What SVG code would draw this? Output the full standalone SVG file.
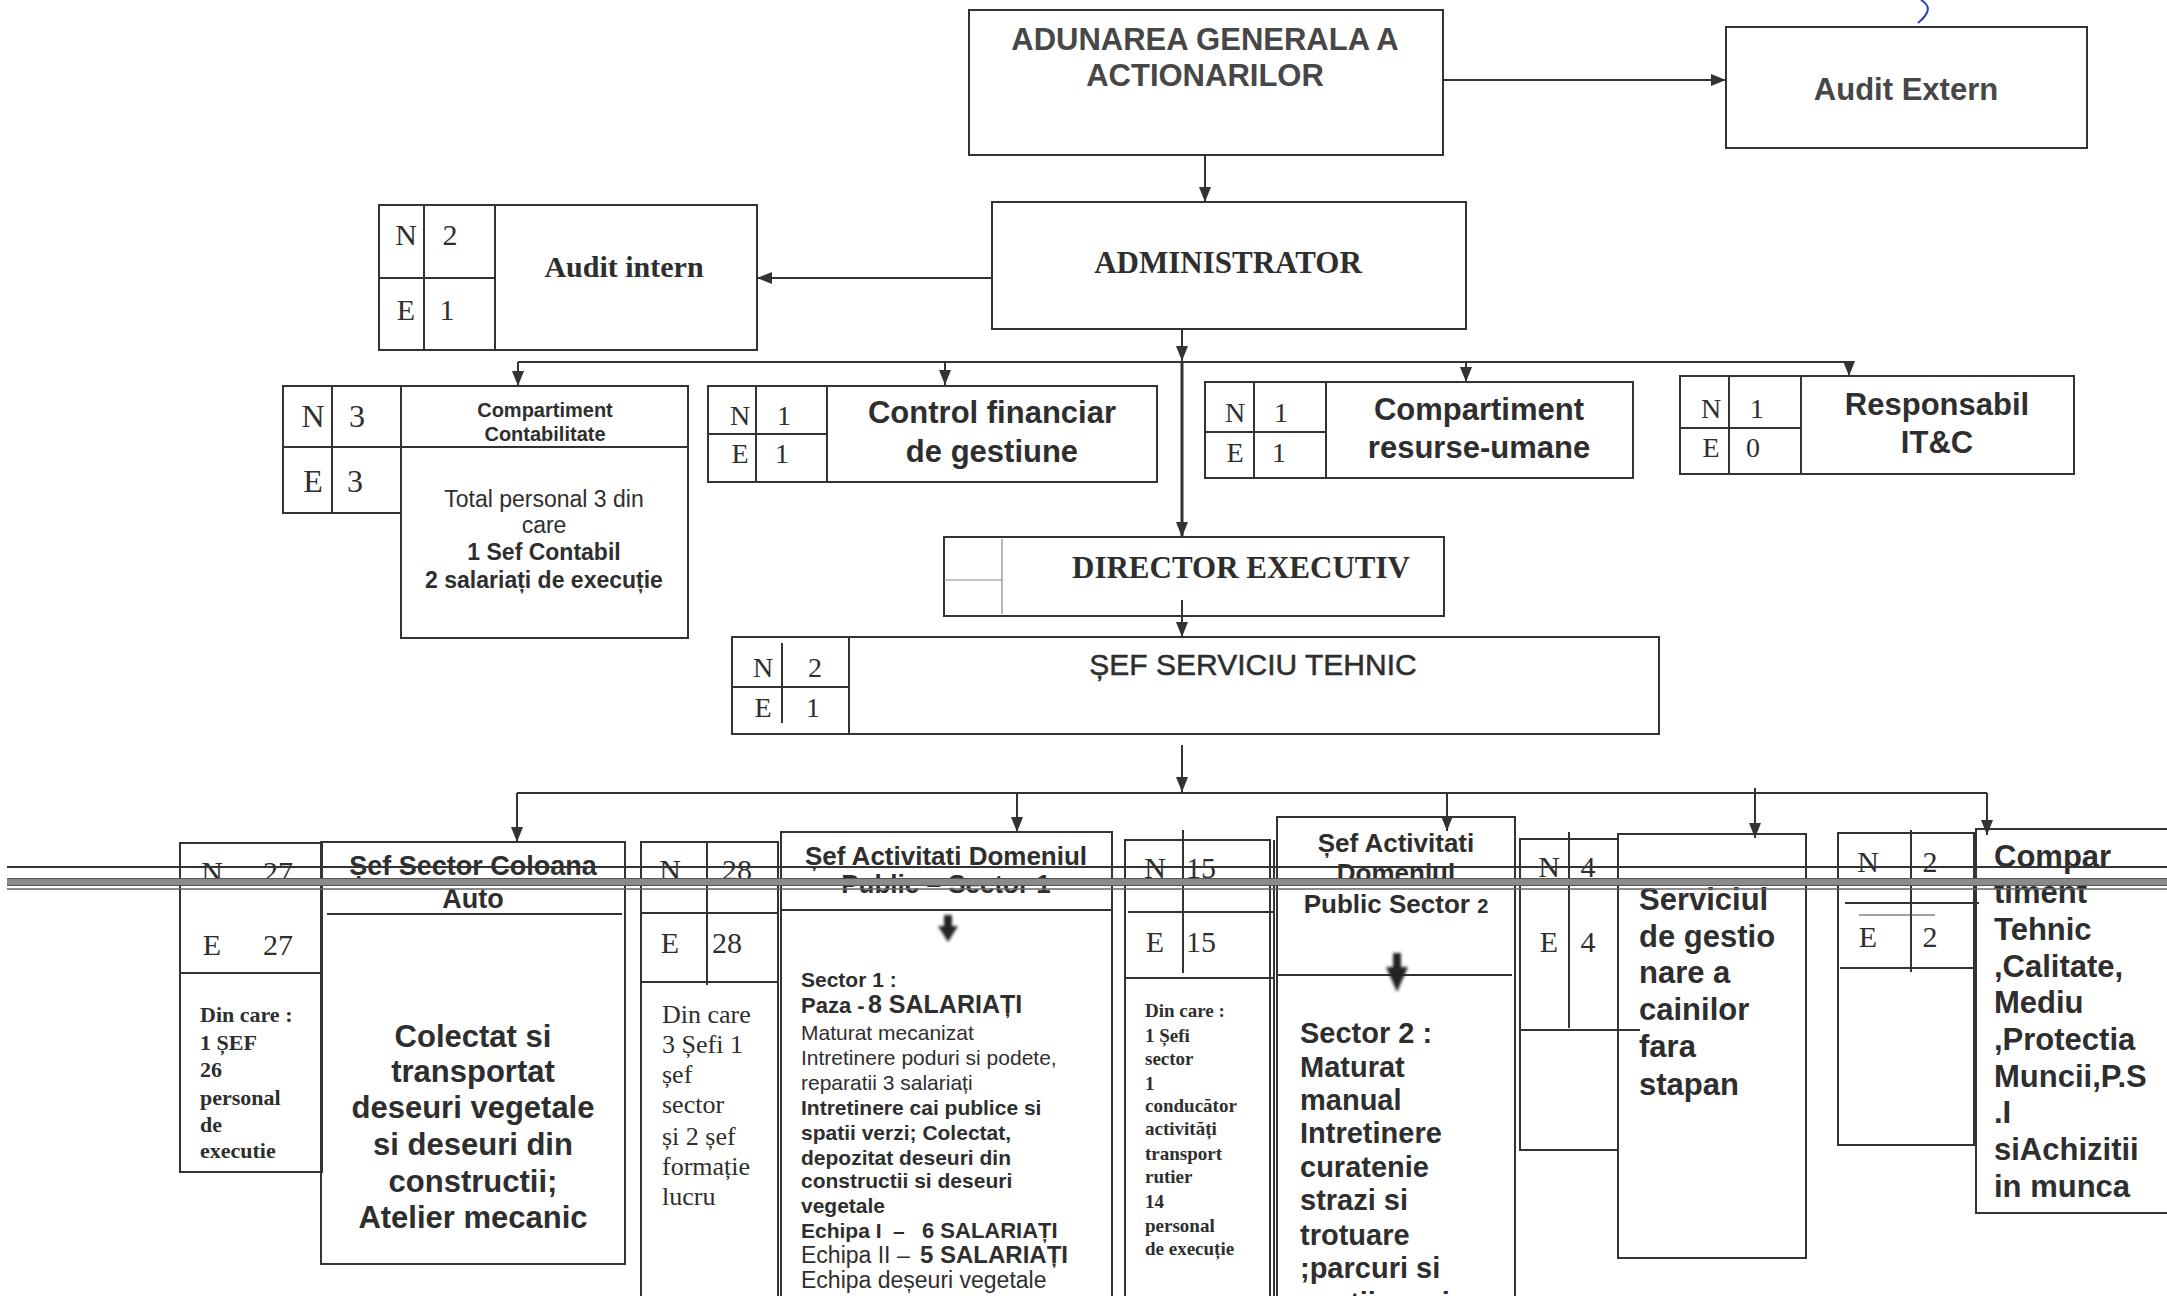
<svg xmlns="http://www.w3.org/2000/svg" width="2167" height="1296" viewBox="0 0 2167 1296">
<defs>
<style>
.bx{fill:none;stroke:#333;stroke-width:2}
.th{fill:none;stroke:#888;stroke-width:1.2}
.ln{fill:none;stroke:#333;stroke-width:2}
.sans{font-family:"Liberation Sans",Arial,sans-serif;fill:#2e2e2e}
.serif{font-family:"Liberation Serif","Times New Roman",serif;fill:#2e2e2e}
.b{font-weight:bold}
.c{text-anchor:middle}
.gr{fill:#474747}
</style>
<marker id="ah" viewBox="0 0 15 12" refX="15" refY="6" markerWidth="15" markerHeight="12" markerUnits="userSpaceOnUse" orient="auto">
<path d="M0,0 L15,6 L0,12 Z" fill="#333"/>
</marker>
<filter id="blur" x="-50%" y="-50%" width="200%" height="200%"><feGaussianBlur stdDeviation="1.6"/></filter>
</defs>
<rect width="2167" height="1296" fill="#fff"/>

<!-- scan marks -->
<path d="M1921,0 C1931,6 1930,13 1918,23" fill="none" stroke="#2b3fc0" stroke-width="2"/>

<g id="adunarea">
<rect class="bx" x="969" y="10" width="474" height="145"/>
<text class="sans b c gr" x="1205" y="50" font-size="31">ADUNAREA GENERALA A</text>
<text class="sans b c gr" x="1205" y="86" font-size="31">ACTIONARILOR</text>
</g>

<g id="audit-extern">
<rect class="bx" x="1726" y="27" width="361" height="121"/>
<text class="sans b c gr" x="1906" y="100" font-size="31">Audit Extern</text>
</g>

<g id="administrator">
<rect class="bx" x="992" y="202" width="474" height="127"/>
<text class="serif b c" x="1228" y="273" font-size="31">ADMINISTRATOR</text>
</g>

<g id="audit-intern">
<rect class="bx" x="379" y="205" width="378" height="145"/>
<path class="ln" d="M424,205V350M495,205V350M379,278H495"/>
<text class="serif c" x="406" y="245" font-size="30">N</text>
<text class="serif c" x="450" y="245" font-size="30">2</text>
<text class="serif c" x="406" y="320" font-size="30">E</text>
<text class="serif c" x="447" y="320" font-size="30">1</text>
<text class="serif b c" x="624" y="277" font-size="30">Audit intern</text>
</g>

<g id="contabilitate">
<rect class="bx" x="283" y="386" width="118" height="127"/>
<path class="ln" d="M332,386V513M283,447H401"/>
<rect class="bx" x="401" y="386" width="287" height="252"/>
<path class="ln" d="M401,447H688"/>
<text class="serif c" x="313" y="427" font-size="32">N</text>
<text class="serif c" x="357" y="427" font-size="32">3</text>
<text class="serif c" x="313" y="492" font-size="32">E</text>
<text class="serif c" x="355" y="492" font-size="32">3</text>
<text class="sans b c" x="545" y="417" font-size="20">Compartiment</text>
<text class="sans b c" x="545" y="441" font-size="20">Contabilitate</text>
<text class="sans c" x="544" y="507" font-size="23">Total personal 3 din</text>
<text class="sans c" x="544" y="533" font-size="23">care</text>
<text class="sans b c" x="544" y="560" font-size="23">1 Sef Contabil</text>
<text class="sans b c" x="544" y="588" font-size="23">2 salariați de execuție</text>
</g>

<g id="control-financiar">
<rect class="bx" x="708" y="386" width="449" height="96"/>
<path class="ln" d="M756,386V482M827,386V482M708,434H827"/>
<text class="serif c" x="740" y="425" font-size="28">N</text>
<text class="serif c" x="784" y="425" font-size="28">1</text>
<text class="serif c" x="740" y="463" font-size="28">E</text>
<text class="serif c" x="782" y="463" font-size="28">1</text>
<text class="sans b c" x="992" y="423" font-size="31">Control financiar</text>
<text class="sans b c" x="992" y="462" font-size="31">de gestiune</text>
</g>

<g id="resurse-umane">
<rect class="bx" x="1205" y="382" width="428" height="96"/>
<path class="ln" d="M1254,382V478M1326,382V478M1205,432H1326"/>
<text class="serif c" x="1235" y="422" font-size="28">N</text>
<text class="serif c" x="1281" y="422" font-size="28">1</text>
<text class="serif c" x="1235" y="462" font-size="28">E</text>
<text class="serif c" x="1279" y="462" font-size="28">1</text>
<text class="sans b c" x="1479" y="420" font-size="31">Compartiment</text>
<text class="sans b c" x="1479" y="458" font-size="31">resurse-umane</text>
</g>

<g id="it-c">
<rect class="bx" x="1680" y="376" width="394" height="98"/>
<path class="ln" d="M1729,376V474M1801,376V474M1680,428H1801"/>
<text class="serif c" x="1711" y="418" font-size="28">N</text>
<text class="serif c" x="1757" y="418" font-size="28">1</text>
<text class="serif c" x="1711" y="457" font-size="28">E</text>
<text class="serif c" x="1753" y="457" font-size="28">0</text>
<text class="sans b c" x="1937" y="415" font-size="31">Responsabil</text>
<text class="sans b c" x="1937" y="453" font-size="31">IT&amp;C</text>
</g>

<g id="director-executiv">
<rect class="bx" x="944" y="537" width="500" height="79"/>
<path class="th" d="M1002,539V614M944,580H1002"/>
<text class="serif b c" x="1241" y="578" font-size="31">DIRECTOR EXECUTIV</text>
</g>

<g id="sef-serviciu-tehnic">
<rect class="bx" x="732" y="637" width="927" height="97"/>
<path class="ln" d="M849,637V734M732,687H849"/>
<path class="ln" d="M782,643V723"/>
<text class="serif c" x="763" y="677" font-size="28">N</text>
<text class="serif c" x="815" y="677" font-size="28">2</text>
<text class="serif c" x="763" y="717" font-size="28">E</text>
<text class="serif c" x="813" y="717" font-size="28">1</text>
<text class="sans c" x="1253" y="675" font-size="30" stroke="#2e2e2e" stroke-width="0.5">ȘEF SERVICIU  TEHNIC</text>
</g>

<g id="coloana-auto">
<rect class="bx" x="180" y="843" width="142" height="329"/>
<path class="ln" d="M180,973H322"/>
<rect class="bx" x="321" y="842" width="304" height="422"/>
<path class="ln" d="M327,914H622"/>
<text class="serif c" x="212" y="882" font-size="30">N</text>
<text class="serif c" x="278" y="882" font-size="30">27</text>
<text class="serif c" x="212" y="955" font-size="30">E</text>
<text class="serif c" x="278" y="955" font-size="30">27</text>
<text class="serif b" x="200" y="1022" font-size="22">Din care :</text>
<text class="serif b" x="200" y="1050" font-size="22">1 ȘEF</text>
<text class="serif b" x="200" y="1077" font-size="22">26</text>
<text class="serif b" x="200" y="1105" font-size="22">personal</text>
<text class="serif b" x="200" y="1132" font-size="22">de</text>
<text class="serif b" x="200" y="1158" font-size="22">executie</text>
<text class="sans b c" x="473" y="875" font-size="27">Șef Sector Coloana</text>
<text class="sans b c" x="473" y="908" font-size="27">Auto</text>
<text class="sans b c" x="473" y="1047" font-size="31">Colectat si</text>
<text class="sans b c" x="473" y="1082" font-size="31">transportat</text>
<text class="sans b c" x="473" y="1118" font-size="31">deseuri vegetale</text>
<text class="sans b c" x="473" y="1155" font-size="31">si deseuri din</text>
<text class="sans b c" x="473" y="1192" font-size="31">constructii;</text>
<text class="sans b c" x="473" y="1228" font-size="31">Atelier mecanic</text>
</g>

<g id="sector-1">
<path class="ln" d="M641,1300V842H778V1300M641,913H778M641,982H778M707,842V985"/>
<path class="ln" d="M781,1300V832H1112V1300M781,910H1112"/>
<text class="serif c" x="670" y="880" font-size="30">N</text>
<text class="serif c" x="737" y="880" font-size="30">28</text>
<text class="serif c" x="670" y="953" font-size="30">E</text>
<text class="serif" x="712" y="953" font-size="30">28</text>
<text class="serif" x="662" y="1023" font-size="26">Din care</text>
<text class="serif" x="662" y="1053" font-size="26">3 Șefi 1</text>
<text class="serif" x="662" y="1083" font-size="26">șef</text>
<text class="serif" x="662" y="1113" font-size="26">sector</text>
<text class="serif" x="662" y="1145" font-size="26">și 2 șef</text>
<text class="serif" x="662" y="1175" font-size="26">formație</text>
<text class="serif" x="662" y="1205" font-size="26">lucru</text>
<text class="sans b c" x="946" y="865" font-size="26">Șef Activitati Domeniul</text>
<text class="sans b c" x="946" y="893" font-size="26">Public – Sector 1</text>
<path d="M944,915 H952 V926 H958 L948,942 L938,926 H944 Z" fill="#222" filter="url(#blur)"/>
<text class="sans b" x="801" y="987" font-size="21">Sector 1 :</text>
<text class="sans b" x="801" y="1013" font-size="22">Paza -<tspan x="868" font-size="25">8 SALARIAȚI</tspan></text>
<text class="sans" x="801" y="1040" font-size="21">Maturat mecanizat</text>
<text class="sans" x="801" y="1065" font-size="21">Intretinere poduri si podete,</text>
<text class="sans" x="801" y="1090" font-size="21">reparatii 3 salariați</text>
<text class="sans b" x="801" y="1115" font-size="21">Intretinere cai publice si</text>
<text class="sans b" x="801" y="1140" font-size="21">spatii verzi; Colectat,</text>
<text class="sans b" x="801" y="1165" font-size="21">depozitat deseuri din</text>
<text class="sans b" x="801" y="1188" font-size="21">constructii si deseuri</text>
<text class="sans b" x="801" y="1213" font-size="21">vegetale</text>
<text class="sans b" x="801" y="1238" font-size="21">Echipa I<tspan x="893">–</tspan><tspan x="922" font-size="22">6 SALARIAȚI</tspan></text>
<text class="sans" x="801" y="1263" font-size="23">Echipa II –<tspan x="920" font-weight="bold" font-size="24">5 SALARIAȚI</tspan></text>
<text class="sans" x="801" y="1288" font-size="23">Echipa deșeuri vegetale</text>
</g>

<g id="sector-2-personal">
<path class="ln" d="M1125,1300V840H1270V1300M1274,840V1300M1128,912H1273M1125,978H1274M1183,830V973"/>
<text class="serif c" x="1155" y="878" font-size="30">N</text>
<text class="serif" x="1186" y="878" font-size="30">15</text>
<text class="serif c" x="1155" y="952" font-size="30">E</text>
<text class="serif" x="1186" y="952" font-size="30">15</text>
<text class="serif b" x="1145" y="1017" font-size="19">Din care :</text>
<text class="serif b" x="1145" y="1042" font-size="19">1  Șefi</text>
<text class="serif b" x="1145" y="1065" font-size="19">sector</text>
<text class="serif b" x="1145" y="1090" font-size="19">1</text>
<text class="serif b" x="1145" y="1112" font-size="19">conducător</text>
<text class="serif b" x="1145" y="1135" font-size="19">activități</text>
<text class="serif b" x="1145" y="1160" font-size="19">transport</text>
<text class="serif b" x="1145" y="1183" font-size="19">rutier</text>
<text class="serif b" x="1145" y="1208" font-size="19">14</text>
<text class="serif b" x="1145" y="1232" font-size="19">personal</text>
<text class="serif b" x="1145" y="1255" font-size="19">de execuție</text>
</g>

<g id="sector-2">
<path class="ln" d="M1277,1300V817H1515V1300M1277,975H1512"/>
<text class="sans b c" x="1396" y="852" font-size="26">Șef Activitati</text>
<text class="sans b c" x="1396" y="882" font-size="26">Domeniul</text>
<text class="sans b c" x="1396" y="913" font-size="26">Public  Sector <tspan font-size="20">2</tspan></text>
<path d="M1393,953 H1401 V967 H1408 L1397,992 L1386,967 H1393 Z" fill="#222" filter="url(#blur)"/>
<text class="sans b" x="1300" y="1043" font-size="29">Sector 2 :</text>
<text class="sans b" x="1300" y="1077" font-size="29">Maturat</text>
<text class="sans b" x="1300" y="1110" font-size="29">manual</text>
<text class="sans b" x="1300" y="1143" font-size="29">Intretinere</text>
<text class="sans b" x="1300" y="1177" font-size="29">curatenie</text>
<text class="sans b" x="1300" y="1210" font-size="29">strazi si</text>
<text class="sans b" x="1300" y="1245" font-size="29">trotuare</text>
<text class="sans b" x="1300" y="1278" font-size="29">;parcuri si</text>
<text class="sans b" x="1300" y="1313" font-size="29">spatii verzi</text>
</g>

<g id="caini">
<rect class="bx" x="1520" y="839" width="98" height="311"/>
<path class="ln" d="M1569,832V1028M1521,1030H1640"/>
<rect class="bx" x="1618" y="834" width="188" height="424"/>
<text class="serif c" x="1549" y="877" font-size="30">N</text>
<text class="serif c" x="1588" y="877" font-size="30">4</text>
<text class="serif c" x="1549" y="952" font-size="30">E</text>
<text class="serif c" x="1588" y="952" font-size="30">4</text>
<text class="sans b" x="1639" y="910" font-size="31">Serviciul</text>
<text class="sans b" x="1639" y="947" font-size="31">de gestio</text>
<text class="sans b" x="1639" y="983" font-size="31">nare a</text>
<text class="sans b" x="1639" y="1020" font-size="31">cainilor</text>
<text class="sans b" x="1639" y="1057" font-size="31">fara</text>
<text class="sans b" x="1639" y="1095" font-size="31">stapan</text>
</g>

<g id="compartiment-tehnic">
<rect class="bx" x="1838" y="833" width="136" height="312"/>
<path class="ln" d="M1911,830V972M1845,903H1979M1840,968H1976"/>
<path class="th" d="M1859,915H1935" style="stroke:#444"/>
<path class="ln" d="M2167,829H1976V1213H2167"/>
<text class="serif c" x="1868" y="872" font-size="30">N</text>
<text class="serif c" x="1930" y="872" font-size="30">2</text>
<text class="serif c" x="1868" y="947" font-size="30">E</text>
<text class="serif c" x="1930" y="947" font-size="30">2</text>
<text class="sans b" x="1994" y="867" font-size="31">Compar</text>
<text class="sans b" x="1994" y="903" font-size="31">timent</text>
<text class="sans b" x="1994" y="940" font-size="31">Tehnic</text>
<text class="sans b" x="1994" y="977" font-size="31">,Calitate,</text>
<text class="sans b" x="1994" y="1013" font-size="31">Mediu</text>
<text class="sans b" x="1994" y="1050" font-size="31">,Protectia</text>
<text class="sans b" x="1994" y="1087" font-size="31">Muncii,P.S</text>
<text class="sans b" x="1994" y="1123" font-size="31">.I</text>
<text class="sans b" x="1994" y="1160" font-size="31">siAchizitii</text>
<text class="sans b" x="1994" y="1197" font-size="31">in munca</text>
</g>

<g id="connectors">
<path class="ln" d="M1443,80H1726" marker-end="url(#ah)"/>
<path class="ln" d="M1205,155V202" marker-end="url(#ah)"/>
<path class="ln" d="M992,278H757" marker-end="url(#ah)"/>
<path class="ln" d="M1182,329V361" marker-end="url(#ah)"/>
<path class="ln" d="M518,362H1849"/>
<path class="ln" d="M518,362V386" marker-end="url(#ah)"/>
<path class="ln" d="M945,362V385" marker-end="url(#ah)"/>
<path class="ln" d="M1466,362V382" marker-end="url(#ah)"/>
<path class="ln" d="M1849,362V376" marker-end="url(#ah)"/>
<path fill="none" stroke="#333" stroke-width="3" d="M1182,361V537" marker-end="url(#ah)"/>
<path class="ln" d="M1182,600V637" marker-end="url(#ah)"/>
<path class="ln" d="M1182,745V792" marker-end="url(#ah)"/>
<path class="ln" d="M517,793H1987"/>
<path class="ln" d="M517,793V842" marker-end="url(#ah)"/>
<path class="ln" d="M1017,793V832" marker-end="url(#ah)"/>
<path class="ln" d="M1447,793V831" marker-end="url(#ah)"/>
<path class="ln" d="M1755,788V838" marker-end="url(#ah)"/>
<path class="ln" d="M1987,793V835" marker-end="url(#ah)"/>
</g>

<!-- horizontal scan lines across the page -->
<g id="page-lines">
<path d="M7,867H2167" stroke="#333" stroke-width="2"/>
<rect x="7" y="878" width="2160" height="8" fill="#8a8a8a"/>
<path d="M7,878.5H2167M7,885.5H2167" stroke="#555" stroke-width="1"/>
<path d="M7,889H2167" stroke="#666" stroke-width="1.5"/>
</g>
</svg>
